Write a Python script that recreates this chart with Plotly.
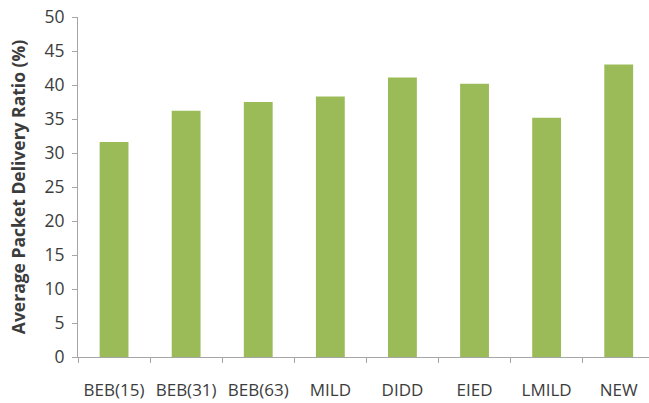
import plotly.graph_objects as go

# Average packet delivery ratio per backoff scheme
schemes = ["BEB(15)", "BEB(31)", "BEB(63)", "MILD", "DIDD", "EIED", "LMILD", "NEW"]
delivery_ratio = [31.6, 36.2, 37.5, 38.3, 41.1, 40.2, 35.2, 43.0]
y_ticks = [0, 5, 10, 15, 20, 25, 30, 35, 40, 45, 50]

axis_grey = "#a6a6a6"
text_col = "#3c3c3c"
font_family = "Open Sans"

fig = go.Figure(
    go.Bar(
        x=schemes,
        y=delivery_ratio,
        marker=dict(color="#9bbb59", line=dict(width=0)),
    )
)

fig.update_layout(
    width=649,
    height=403,
    margin=dict(l=78, r=0, t=17, b=46),
    plot_bgcolor="white",
    paper_bgcolor="white",
    bargap=0.6,
    showlegend=False,
    font=dict(family=font_family, color=text_col, size=16),
)

fig.update_xaxes(
    type="category",
    range=[-0.5, 7.42],
    showline=True,
    linecolor=axis_grey,
    linewidth=1,
    ticks="outside",
    tickson="boundaries",
    ticklen=5,
    tickcolor=axis_grey,
    showgrid=False,
    ticklabelstandoff=18,
    tickfont=dict(family=font_family, size=17, color=text_col),
)

fig.update_yaxes(
    range=[0, 50],
    tickvals=y_ticks,
    showline=True,
    linecolor=axis_grey,
    linewidth=1,
    ticks="outside",
    ticklen=5,
    tickcolor=axis_grey,
    showgrid=False,
    zeroline=False,
    ticklabelstandoff=4,
    tickfont=dict(family=font_family, size=17.5, color=text_col),
    title=dict(
        text="<b>Average Packet Delivery Ratio (%)</b>",
        font=dict(family=font_family, size=17.5, color=text_col),
        standoff=14,
    ),
)

fig.write_html("out.html")
